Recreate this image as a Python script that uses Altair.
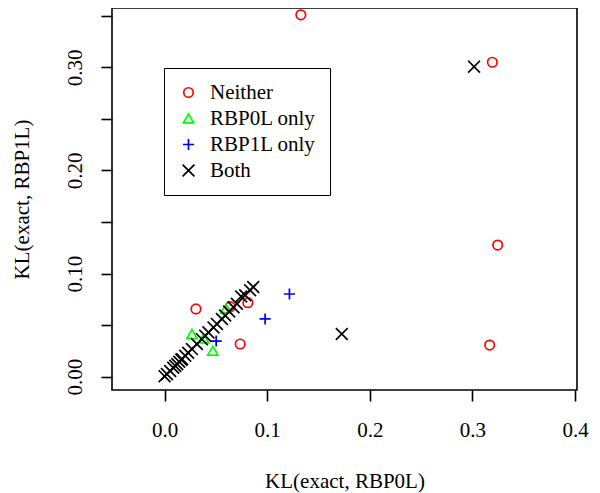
import altair as alt
import pandas as pd

categories = ["Neither", "RBP0L only", "RBP1L only", "Both"]

neither_x = [0.1328, 0.3194, 0.3246, 0.3168, 0.0306, 0.0640, 0.0812, 0.0737]
neither_y = [0.3510, 0.3050, 0.1277, 0.0307, 0.0657, 0.0679, 0.0718, 0.0317]

rbp0l_x = [0.0267, 0.0380, 0.0471, 0.0600]
rbp0l_y = [0.0414, 0.0372, 0.0252, 0.0663]

rbp1l_x = [0.1217, 0.0980, 0.0503]
rbp1l_y = [0.0802, 0.0560, 0.0346]

both_x = [0.3016, 0.1727, 0.0000, 0.0023, 0.0055, 0.0085, 0.0104, 0.0124, 0.0143,
          0.0163, 0.0172, 0.0201, 0.0230, 0.0267, 0.0315, 0.0364, 0.0396, 0.0428,
          0.0477, 0.0510, 0.0559, 0.0591, 0.0630, 0.0672, 0.0705, 0.0747, 0.0786,
          0.0834, 0.0864]
both_y = [0.3007, 0.0414, 0.0005, 0.0025, 0.0055, 0.0087, 0.0105, 0.0122, 0.0145,
          0.0165, 0.0170, 0.0203, 0.0232, 0.0268, 0.0317, 0.0364, 0.0398, 0.0430,
          0.0478, 0.0512, 0.0560, 0.0593, 0.0632, 0.0674, 0.0707, 0.0778, 0.0790,
          0.0838, 0.0870]

x_ticks = [0.0, 0.1, 0.2, 0.3, 0.4]
y_ticks = [0.00, 0.05, 0.10, 0.15, 0.20, 0.25, 0.30, 0.35]

rows = []
for cat, xs, ys in [("Neither", neither_x, neither_y),
                    ("RBP0L only", rbp0l_x, rbp0l_y),
                    ("RBP1L only", rbp1l_x, rbp1l_y),
                    ("Both", both_x, both_y)]:
    for a, b in zip(xs, ys):
        rows.append({"x": a, "y": b, "group": cat})
df = pd.DataFrame(rows)

FONT = "Liberation Serif"
colors = ["#FF0000", "#00FF00", "#0000FF", "#000000"]
shapes = ["circle", "triangle-up", "M-1,0H1M0,-1V1", "M-1,-1L1,1M-1,1L1,-1"]
sizes = [90, 140, 190, 110]

legend = alt.Legend(
    title=None, orient="none", legendX=52, legendY=60,
    strokeColor="black", padding=14, rowPadding=4,
    labelFont=FONT, labelFontSize=21, labelColor="black", labelOffset=11,
    symbolSize=120, symbolStrokeWidth=1.7, symbolFillColor="transparent",
    fillColor="white",
)

chart = alt.Chart(df).mark_point(filled=False, strokeWidth=1.7, opacity=1).encode(
    x=alt.X("x:Q", scale=alt.Scale(domain=[-0.0512, 0.4019], nice=False, zero=False),
            axis=alt.Axis(values=x_ticks, format=".1f", title="KL(exact, RBP0L)",
                          grid=False, domain=False, tickSize=11, tickWidth=1.6,
                          tickColor="black", labelFont=FONT, labelFontSize=21,
                          labelColor="black", labelPadding=18, labelFlush=False,
                          titleFont=FONT, titleFontSize=21, titleFontWeight="normal",
                          titleColor="black", titleBaseline="alphabetic", titleY=97)),
    y=alt.Y("y:Q", scale=alt.Scale(domain=[-0.0129, 0.3576], nice=False, zero=False),
            axis=alt.Axis(values=y_ticks,
                          labelExpr="(round(datum.value*100) % 10 == 0) ? format(datum.value, '.2f') : ''",
                          title="KL(exact, RBP1L)", grid=False, domain=False,
                          tickSize=11, tickWidth=1.6, tickColor="black",
                          labelFont=FONT, labelFontSize=21, labelColor="black",
                          labelAngle=270, labelAlign="center", labelBaseline="alphabetic",
                          labelPadding=20, labelFlush=False,
                          titleFont=FONT, titleFontSize=21, titleFontWeight="normal",
                          titleColor="black", titleBaseline="alphabetic",
                          titleX=-84, titleY=191)),
    color=alt.Color("group:N", scale=alt.Scale(domain=categories, range=colors), legend=legend),
    shape=alt.Shape("group:N", scale=alt.Scale(domain=categories, range=shapes), legend=legend),
    size=alt.Size("group:N", scale=alt.Scale(domain=categories, range=sizes), legend=None),
).properties(
    width=465, height=382,
    autosize=alt.AutoSizeParams(type="none"),
    padding={"left": 104, "top": 0, "right": 15, "bottom": 103},
).configure_view(
    stroke="black", strokeWidth=1.6
)

chart.save("out.html", embed_options={"renderer": "svg", "actions": False})
